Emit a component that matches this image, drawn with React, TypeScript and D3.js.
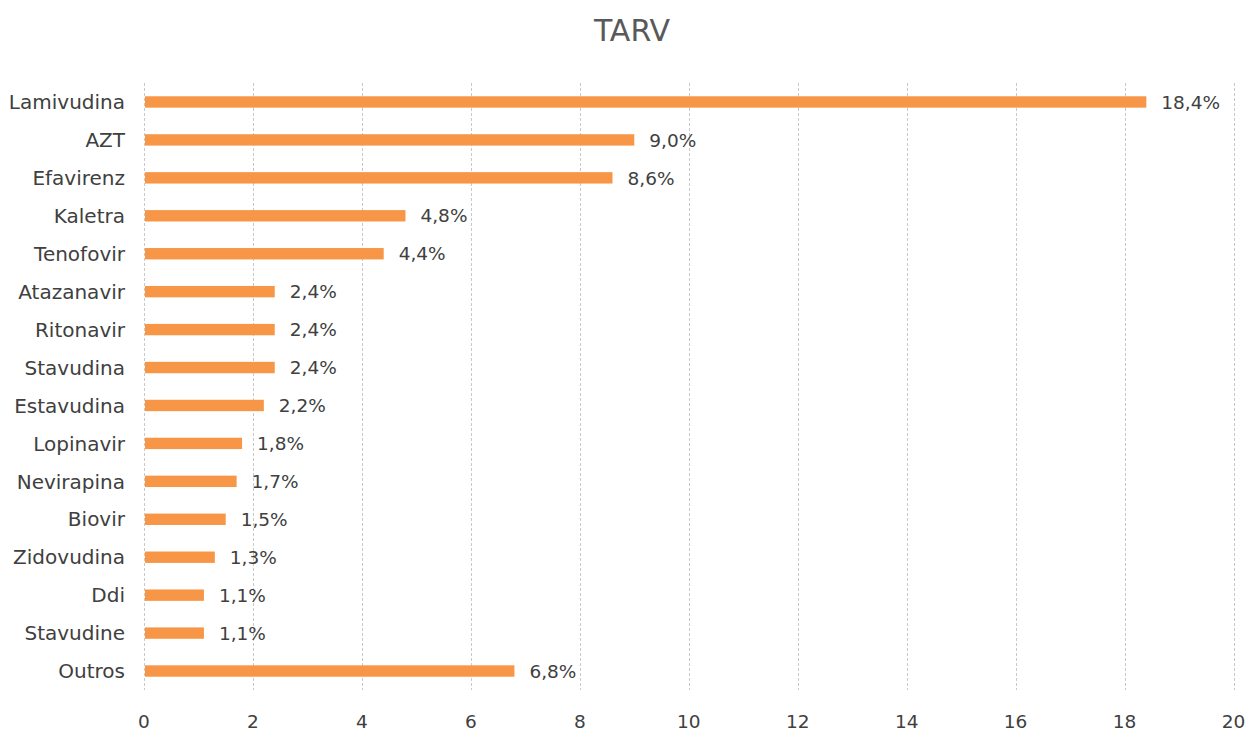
import React, { useEffect, useRef } from 'react';
import * as d3 from 'd3';

const title = 'TARV';
const drugs = [
  'Lamivudina', 'AZT', 'Efavirenz', 'Kaletra', 'Tenofovir', 'Atazanavir', 'Ritonavir',
  'Stavudina', 'Estavudina', 'Lopinavir', 'Nevirapina', 'Biovir', 'Zidovudina', 'Ddi',
  'Stavudine', 'Outros',
];
const percents = [18.4, 9.0, 8.6, 4.8, 4.4, 2.4, 2.4, 2.4, 2.2, 1.8, 1.7, 1.5, 1.3, 1.1, 1.1, 6.8];
const xTicks = [0, 2, 4, 6, 8, 10, 12, 14, 16, 18, 20];

const App = () => {
  const ref = useRef<SVGSVGElement>(null);

  useEffect(() => {
    const svg = d3.select(ref.current);
    svg.selectAll('*').remove();

    const width = 1250;
    const height = 731;
    const margin = { top: 83, right: 16, bottom: 41, left: 144 };
    const font = '"DejaVu Sans", Arial, sans-serif';

    const x = d3.scaleLinear().domain([0, 20]).range([margin.left, width - margin.right - 0.5]);
    const y = d3.scaleBand().domain(drugs).range([margin.top, height - margin.bottom]).paddingInner(0.7).paddingOuter(0.35);

    // Title
    svg.append('text')
      .attr('x', 632)
      .attr('y', 41)
      .attr('text-anchor', 'middle')
      .attr('fill', '#595959')
      .style('font-family', font)
      .style('font-size', '30px')
      .text(title);

    // Vertical grid lines
    svg.append('g')
      .selectAll('line')
      .data(xTicks)
      .enter()
      .append('line')
      .attr('x1', d => Math.round(x(d)) + 0.5)
      .attr('x2', d => Math.round(x(d)) + 0.5)
      .attr('y1', margin.top)
      .attr('y2', height - margin.bottom)
      .attr('stroke', '#c8c8c8')
      .attr('stroke-dasharray', '3,2');

    // Bars
    svg.append('g')
      .selectAll('rect')
      .data(drugs)
      .enter()
      .append('rect')
      .attr('x', x(0) + 1)
      .attr('y', d => y(d)!)
      .attr('width', (d, i) => x(percents[i]) - x(0) - 1)
      .attr('height', y.bandwidth())
      .attr('fill', '#F79646');

    // Value labels
    svg.append('g')
      .selectAll('text')
      .data(drugs)
      .enter()
      .append('text')
      .attr('x', (d, i) => x(percents[i]) + 15)
      .attr('y', d => y(d)! + y.bandwidth() / 2)
      .attr('dy', '0.36em')
      .attr('fill', '#404040')
      .style('font-family', font)
      .style('font-size', '18.5px')
      .text((d, i) => percents[i].toFixed(1).replace('.', ',') + '%');

    // Category labels
    svg.append('g')
      .selectAll('text')
      .data(drugs)
      .enter()
      .append('text')
      .attr('x', 125)
      .attr('y', d => y(d)! + y.bandwidth() / 2)
      .attr('dy', '0.36em')
      .attr('text-anchor', 'end')
      .attr('fill', '#404040')
      .style('font-family', font)
      .style('font-size', '20px')
      .text(d => d);

    // X tick labels
    svg.append('g')
      .selectAll('text')
      .data(xTicks)
      .enter()
      .append('text')
      .attr('x', d => x(d))
      .attr('y', 728)
      .attr('text-anchor', 'middle')
      .attr('fill', '#404040')
      .style('font-family', font)
      .style('font-size', '18.5px')
      .text(d => d);
  }, []);

  return (
    <svg ref={ref} width={1250} height={731} style={{ display: 'block', position: 'absolute', left: 0, top: 0, background: '#fff' }} />
  );
};

export default App;
